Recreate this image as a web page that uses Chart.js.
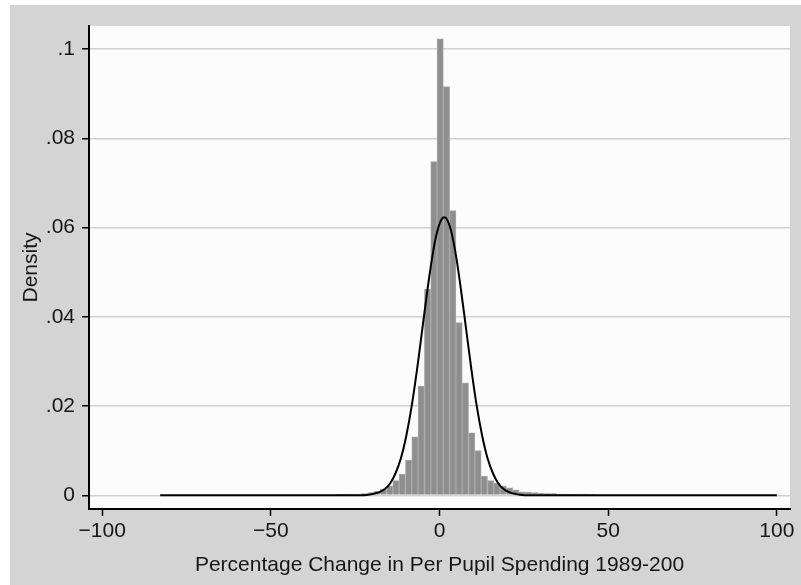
<!DOCTYPE html>
<html>
<head>
<meta charset="utf-8">
<script src="https://cdn.jsdelivr.net/npm/chart.js@4.4.1/dist/chart.umd.min.js"></script>
<style>
  html, body { margin: 0; padding: 0; background: #ffffff; }
  canvas { display: block; }
</style>
</head>
<body>
<canvas id="hist" width="801" height="585"></canvas>
<script>
// histogram bins (centre of each bin) and their density
const binCenters = [
  -29.72, -27.85, -25.98, -24.11, -22.24, -20.37, -18.5, -16.63, -14.76, -12.89,
  -11.02, -9.15, -7.28, -5.41, -3.54, -1.67, 0.2, 2.07, 3.94, 5.81,
  7.68, 9.55, 11.42, 13.29, 15.16, 17.03, 18.9, 20.77, 22.64, 24.51,
  26.38, 28.25, 30.12, 31.99, 33.86, 35.73, 37.6, 39.47, 41.34, 43.21, 45.08
];
const binDensity = [
  0.0002, 0.0002, 0.0003, 0.0003, 0.0004, 0.0006, 0.0009, 0.0014, 0.0021, 0.0033,
  0.0047, 0.0079, 0.0131, 0.0245, 0.0462, 0.0748, 0.1023, 0.0916, 0.0638, 0.0387,
  0.0252, 0.0140, 0.0100, 0.0043, 0.0033, 0.0027, 0.0021, 0.0017, 0.0012, 0.0008,
  0.0007, 0.0006, 0.0005, 0.0004, 0.0004, 0.0003, 0.0002, 0.0002, 0.0003, 0.0003, 0.0001
];

// normal density overlay
const curveX = [
  -82.8, -40, -24.2, -21, -17.8, -16.2, -14.6, -13, -11.4, -9.8, -8.2, -6.6, -5, -3.4,
  -1.8, -0.2, 1.4, 3, 4.6, 6.2, 7.8, 9.4, 11, 12.6, 14.2, 15.8, 17.4, 19, 20.6,
  23.8, 27, 60, 100
];
const curveY = [
  0, 0, 0.00002, 0.00014, 0.0007, 0.0014, 0.0027, 0.0050, 0.0084, 0.0135, 0.0202, 0.0285, 0.0378, 0.0470,
  0.0550, 0.0604, 0.0623, 0.0604, 0.0550, 0.0470, 0.0378, 0.0285, 0.0202, 0.0135, 0.0084, 0.0050, 0.0027, 0.0014, 0.0007,
  0.00014, 0, 0, 0
];

const xTicks = [-100, -50, 0, 50, 100];
const xTickLabels = ['\u2212100', '\u221250', '0', '50', '100'];
const yTicks = [0, 0.02, 0.04, 0.06, 0.08, 0.1];
const yTickLabels = ['0', '.02', '.04', '.06', '.08', '.1'];

const FONT = 'Liberation Sans, Arial, Helvetica, sans-serif';
const TXT = '#161616';

// grey page frame + white plot region, Stata style
const backdrop = {
  id: 'backdrop',
  beforeDraw(chart) {
    const { ctx, chartArea: a } = chart;
    ctx.save();
    ctx.fillStyle = '#ffffff';
    ctx.fillRect(0, 0, chart.width, chart.height);
    ctx.fillStyle = '#d4d4d4';
    ctx.fillRect(10, 5, chart.width - 10, chart.height - 5);
    ctx.fillStyle = '#fcfcfc';
    ctx.fillRect(a.left, a.top, a.right - a.left, a.bottom - a.top);
    ctx.restore();
  },
};

new Chart(document.getElementById('hist').getContext('2d'), {
  type: 'bar',
  data: {
    datasets: [
      {
        type: 'line',
        label: 'Normal density',
        data: curveX.map((x, i) => ({ x, y: curveY[i] })),
        borderColor: '#000000',
        borderWidth: 2,
        pointRadius: 0,
        cubicInterpolationMode: 'monotone',
        fill: false,
        order: 0,
      },
      {
        type: 'bar',
        label: 'Density',
        data: binCenters.map((x, i) => ({ x, y: binDensity[i] })),
        backgroundColor: '#8e8e8e',
        borderColor: '#a9a9a9',
        borderWidth: 1,
        barPercentage: 1,
        categoryPercentage: 1,
        order: 1,
      },
    ],
  },
  options: {
    responsive: false,
    animation: false,
    devicePixelRatio: 1,
    layout: { padding: { left: 0, top: 26, right: 11, bottom: 0 } },
    plugins: {
      legend: { display: false },
      tooltip: { enabled: false },
    },
    scales: {
      x: {
        type: 'linear',
        min: -103.9,
        max: 103.9,
        offset: false,
        afterBuildTicks: (axis) => { axis.ticks = xTicks.map((v) => ({ value: v })); },
        afterFit: (axis) => { axis.height = 76; },
        ticks: {
          callback: (v, i) => xTickLabels[i],
          font: { family: FONT, size: 21 },
          color: TXT,
          padding: 3,
          maxRotation: 0,
        },
        grid: {
          offset: false,
          drawOnChartArea: false,
          drawTicks: true,
          tickLength: 7,
          tickColor: '#000000',
          tickWidth: 1.5,
        },
        border: { color: '#000000', width: 2 },
        title: {
          display: true,
          text: 'Percentage Change in Per Pupil Spending 1989-200',
          font: { family: FONT, size: 21 },
          color: TXT,
          padding: { top: 0, bottom: 7 },
        },
      },
      y: {
        min: -0.00307,
        max: 0.10518,
        afterBuildTicks: (axis) => { axis.ticks = yTicks.map((v) => ({ value: v })); },
        afterFit: (axis) => { axis.width = 89; },
        ticks: {
          callback: (v, i) => yTickLabels[i],
          font: { family: FONT, size: 21 },
          color: TXT,
          padding: 7,
        },
        grid: {
          color: '#d0d0d0',
          lineWidth: 1.5,
          tickLength: 7,
          tickColor: '#000000',
          tickWidth: 1.5,
        },
        border: { color: '#000000', width: 2 },
        title: {
          display: true,
          text: 'Density',
          font: { family: FONT, size: 21 },
          color: TXT,
          padding: { top: 19, bottom: 0 },
        },
      },
    },
  },
  plugins: [backdrop],
});
</script>
</body>
</html>
